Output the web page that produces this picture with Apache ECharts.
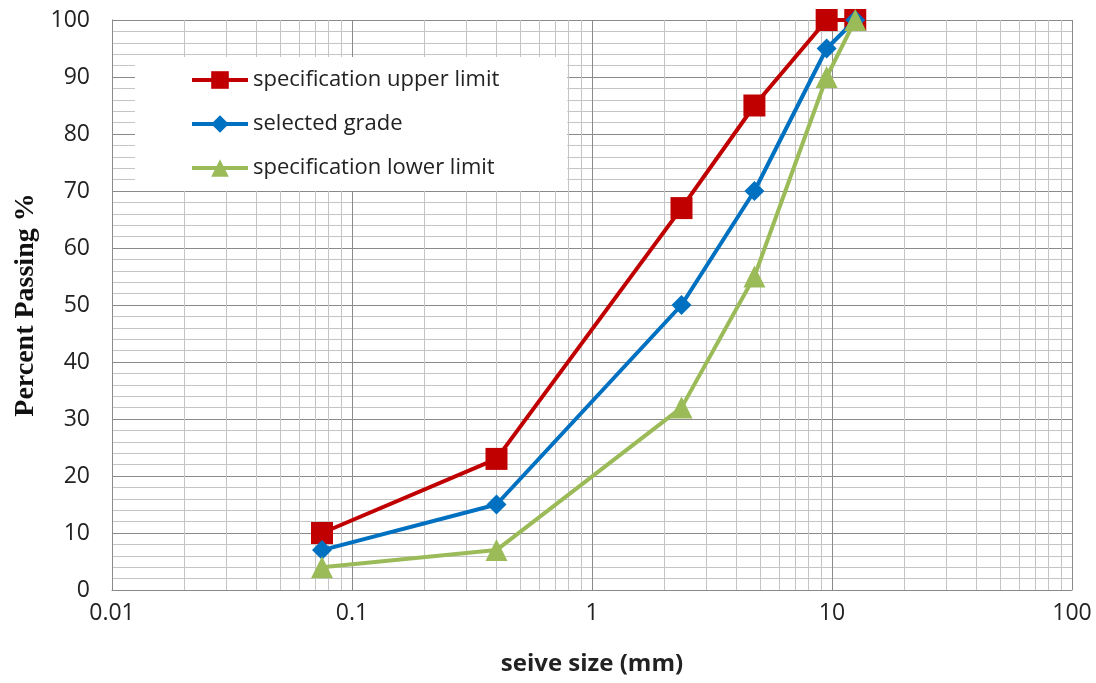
<!DOCTYPE html>
<html>
<head>
<meta charset="utf-8">
<script src="https://cdn.jsdelivr.net/npm/echarts@6/dist/echarts.min.js"></script>
<style>html,body{margin:0;padding:0;background:#fff}#c{width:1096px;height:683px}</style>
</head>
<body>
<div id="c"></div>
<script>
const sieveSizes = [0.075, 0.4, 2.36, 4.75, 9.5, 12.5];
const upperLimit = [10, 23, 67, 85, 100, 100];
const selectedGrade = [7, 15, 50, 70, 95, 100];
const lowerLimit = [4, 7, 32, 55, 90, 100];
const seriesNames = ['specification upper limit', 'selected grade', 'specification lower limit'];
const xTickLabels = ['0.01', '0.1', '1', '10', '100'];
const decades = [0.01, 0.1, 1, 10];
const minorMultipliers = [2, 3, 4, 5, 6, 7, 8, 9];

const minorX = [];
decades.forEach(d => minorMultipliers.forEach(m => minorX.push(+(d * m).toPrecision(3))));

const pair = ys => sieveSizes.map((x, i) => [x, ys[i]]);

const chart = echarts.init(document.getElementById('c'));
chart.setOption({
  animation: false,
  backgroundColor: '#fff',
  grid: { left: 112, right: 24, top: 20, bottom: 93, containLabel: false },
  legend: {
    left: 135, top: 57, z: 10,
    orient: 'vertical',
    backgroundColor: '#ffffff',
    padding: [12, 68, 12, 55],
    itemGap: 22,
    itemWidth: 56, itemHeight: 22,
    lineStyle: { width: 4 },
    textStyle: { fontFamily: 'Open Sans', fontSize: 22, color: '#222' },
    data: seriesNames
  },
  xAxis: {
    type: 'log', logBase: 10, min: 0.01, max: 100,
    axisLine: { show: true, lineStyle: { color: '#8a8a8a', width: 1 } },
    axisTick: { show: false },
    axisLabel: {
      fontFamily: 'Open Sans', fontSize: 23, color: '#222', margin: 12,
      formatter: v => {
        const s = xTickLabels.find(t => Math.abs(parseFloat(t) - v) / v < 1e-6);
        return s || '';
      }
    },
    splitLine: { show: true, lineStyle: { color: '#8a8a8a', width: 1 } },
    name: 'seive size (mm)', nameLocation: 'middle', nameGap: 62,
    nameTextStyle: { fontFamily: 'Open Sans', fontSize: 24, fontWeight: 'bold', color: '#222' }
  },
  yAxis: {
    type: 'value', min: 0, max: 100, interval: 10,
    axisLine: { show: true, lineStyle: { color: '#8a8a8a', width: 1 } },
    axisTick: { show: false },
    axisLabel: { fontFamily: 'Open Sans', fontSize: 23, color: '#222', margin: 22 },
    splitLine: { show: true, lineStyle: { color: '#8a8a8a', width: 1 } },
    minorTick: { show: false, splitNumber: 5 },
    minorSplitLine: { show: true, lineStyle: { color: '#c4c4c4', width: 1 } },
    name: 'Percent Passing %', nameLocation: 'middle', nameGap: 69,
    nameTextStyle: { fontFamily: 'Liberation Serif', fontSize: 28, fontWeight: 'bold', color: '#111' }
  },
  series: [
    {
      name: '_minorgrid', type: 'line', data: [], silent: true, z: 0,
      markLine: {
        silent: true, symbol: 'none', animation: false, z: 0,
        label: { show: false },
        lineStyle: { color: '#c4c4c4', width: 1, type: 'solid' },
        emphasis: { disabled: true },
        data: minorX.map(v => ({ xAxis: v }))
      }
    },
    {
      name: seriesNames[0], type: 'line', data: pair(upperLimit), z: 3,
      symbol: 'rect', symbolSize: 22,
      lineStyle: { color: '#C00000', width: 4 },
      itemStyle: { color: '#C00000' }
    },
    {
      name: seriesNames[1], type: 'line', data: pair(selectedGrade), z: 4,
      symbol: 'diamond', symbolSize: 20,
      lineStyle: { color: '#0070C0', width: 4 },
      itemStyle: { color: '#0070C0' }
    },
    {
      name: seriesNames[2], type: 'line', data: pair(lowerLimit), z: 5,
      symbol: 'triangle', symbolSize: 22,
      lineStyle: { color: '#9BBB59', width: 4 },
      itemStyle: { color: '#9BBB59' }
    }
  ]
});
</script>
</body>
</html>
